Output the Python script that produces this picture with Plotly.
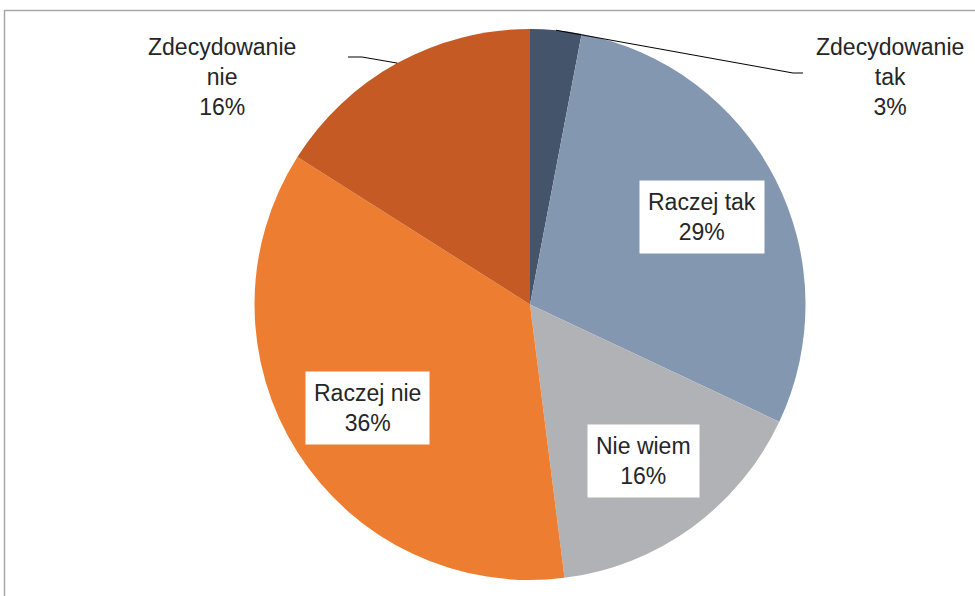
import math
import plotly.graph_objects as go

labels = ["Zdecydowanie tak", "Raczej tak", "Nie wiem", "Raczej nie", "Zdecydowanie nie"]
label_text = ["Zdecydowanie<br>tak", "Raczej tak", "Nie wiem", "Raczej nie", "Zdecydowanie<br>nie"]
values = [3, 29, 16, 36, 16]
colors = ["#44546A", "#8497B0", "#B1B2B6", "#ED7D31", "#C55A24"]

W, H = 975, 596
CX, CY, R = 530, 304.5, 275.5  # pixel geometry of pie

fig = go.Figure(go.Pie(
    labels=labels, values=values, sort=False, direction="clockwise", rotation=0,
    marker=dict(colors=colors, line=dict(width=0)),
    textinfo="none", hoverinfo="label+percent", showlegend=False,
    domain=dict(x=[(CX - R) / W, (CX + R) / W], y=[(H - CY - R) / H, (H - CY + R) / H]),
))

FONT = dict(family="Liberation Sans, Arial, sans-serif", size=23, color="#262626")
total = sum(values)

def px(x, y):
    return x / W, 1 - y / H

annotations, shapes = [], []
cum = 0
mids = []
for v in values:
    mids.append((cum + v / 2) / total * 2 * math.pi)
    cum += v

def polar(ang, r):
    return CX + r * math.sin(ang), CY - r * math.cos(ang)

for i, (lt, v, a) in enumerate(zip(label_text, values, mids)):
    pct = f"{round(v / total * 100)}%"
    if i in (1, 2, 3):
        x, y = polar(a, 0.70 * R)
        ax, ay = px(x, y)
        annotations.append(dict(x=ax, y=ay, xref="paper", yref="paper", text=f"{lt}<br>{pct}",
                                showarrow=False, font=FONT, bgcolor="white", borderpad=8,
                                xanchor="center", yanchor="middle"))

# outside labels with leader lines
outside = {0: ((890, 77), [(803, 73), (793, 73)]), 4: ((222, 77), [(348, 57), (362, 57)])}
for i, ((lx, ly), pts) in outside.items():
    ax, ay = px(lx, ly)
    annotations.append(dict(x=ax, y=ay, xref="paper", yref="paper",
                            text=f"{label_text[i]}<br>{round(values[i] / total * 100)}%",
                            showarrow=False, font=FONT, xanchor="center", yanchor="middle"))
    ex, ey = polar(mids[i], R)
    path_pts = pts + [(ex, ey)]
    path = "M " + " L ".join(f"{x},{H - y}" for x, y in path_pts)
    shapes.append(dict(type="path", xref="x", yref="y", path=path,
                       line=dict(color="#000000", width=1)))

# chart frame
shapes.append(dict(type="line", xref="x", yref="y", x0=4.5, x1=4.5, y0=H - 10, y1=0,
                   line=dict(color="#A6A6A6", width=1.5)))
shapes.append(dict(type="line", xref="x", yref="y", x0=4.5, x1=W, y0=H - 10.5, y1=H - 10.5,
                   line=dict(color="#A6A6A6", width=1.5)))

fig.update_layout(
    width=W, height=H, margin=dict(l=0, r=0, t=0, b=0),
    paper_bgcolor="white", plot_bgcolor="rgba(0,0,0,0)",
    xaxis=dict(range=[0, W], visible=False, fixedrange=True),
    yaxis=dict(range=[0, H], visible=False, fixedrange=True),
    annotations=annotations, shapes=shapes,
)
fig.write_html("out.html", config={"displayModeBar": False},
               post_script="document.body.style.margin='0';document.body.style.overflow='hidden';")
